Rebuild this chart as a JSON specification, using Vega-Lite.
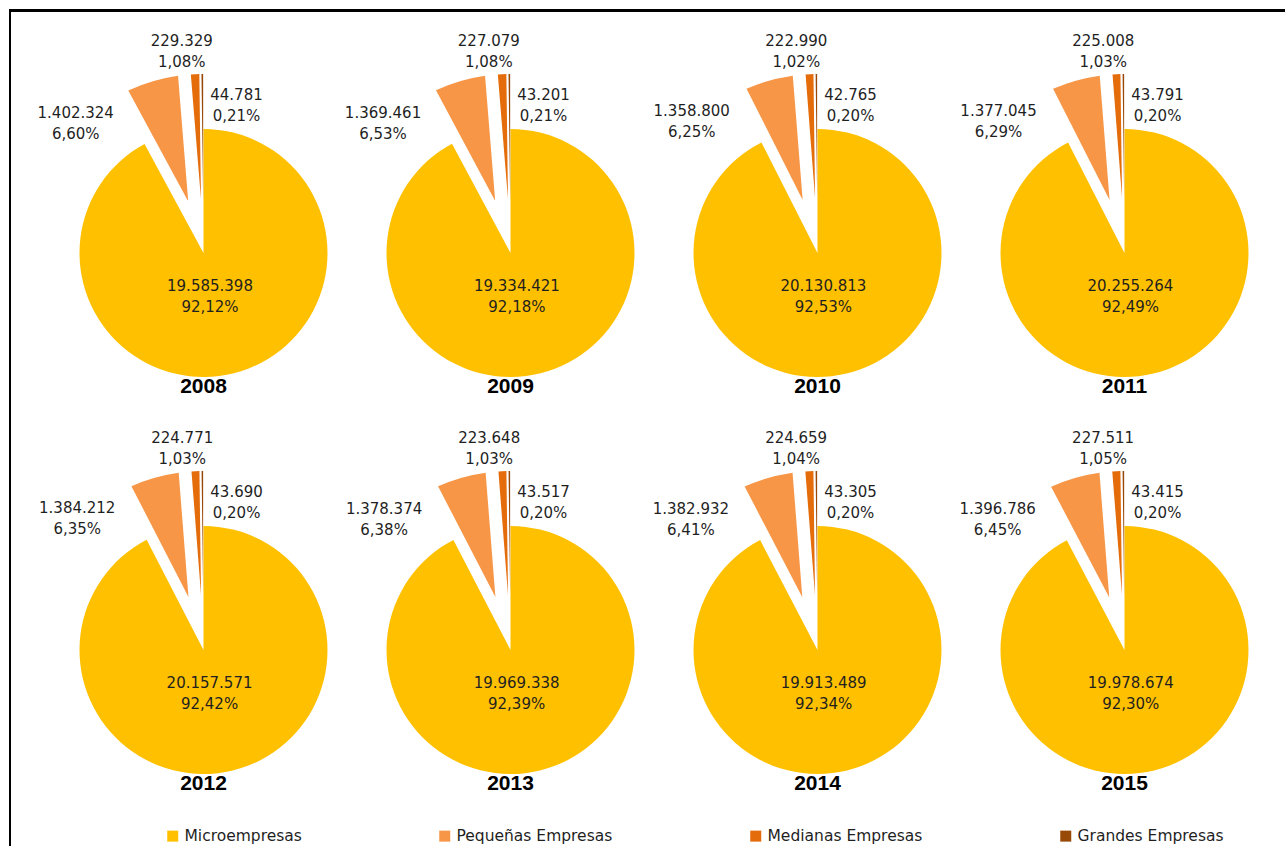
{
  "$schema": "https://vega.github.io/schema/vega-lite/v6.json",
  "padding": {"left": 9, "top": 9, "right": 0, "bottom": 0},
  "background": "white",
  "config": {
    "locale": {"number": {"decimal": ",", "thousands": ".", "grouping": [3], "currency": ["", " €"]}},
    "view": {"stroke": null},
    "headerFacet": {"labels": false, "title": null, "labelFontSize": 0, "labelPadding": 0, "labelExpr": "''"},
    "header": {"labels": false, "title": null, "labelFontSize": 0, "labelPadding": 0, "labelExpr": "''"},
    "legend": {
      "orient": "none",
      "legendX": 156,
      "legendY": 819,
      "direction": "horizontal",
      "symbolType": "square",
      "symbolSize": 121,
      "symbolStrokeWidth": 0,
      "symbolOpacity": 1,
      "labelFont": "DejaVu Sans",
      "labelFontSize": 15.5,
      "labelColor": "#1F1F1F",
      "labelOffset": 4,
      "labelLimit": 400,
      "columnPadding": 135,
      "title": null
    }
  },
  "datasets": {
    "empresas": [
      {"year": "2008", "cat": "Microempresas", "value": 19585398, "pct": 0.9212},
      {"year": "2008", "cat": "Pequeñas Empresas", "value": 1402324, "pct": 0.0660},
      {"year": "2008", "cat": "Medianas Empresas", "value": 229329, "pct": 0.0108},
      {"year": "2008", "cat": "Grandes Empresas", "value": 44781, "pct": 0.0021},
      {"year": "2009", "cat": "Microempresas", "value": 19334421, "pct": 0.9218},
      {"year": "2009", "cat": "Pequeñas Empresas", "value": 1369461, "pct": 0.0653},
      {"year": "2009", "cat": "Medianas Empresas", "value": 227079, "pct": 0.0108},
      {"year": "2009", "cat": "Grandes Empresas", "value": 43201, "pct": 0.0021},
      {"year": "2010", "cat": "Microempresas", "value": 20130813, "pct": 0.9253},
      {"year": "2010", "cat": "Pequeñas Empresas", "value": 1358800, "pct": 0.0625},
      {"year": "2010", "cat": "Medianas Empresas", "value": 222990, "pct": 0.0102},
      {"year": "2010", "cat": "Grandes Empresas", "value": 42765, "pct": 0.0020},
      {"year": "2011", "cat": "Microempresas", "value": 20255264, "pct": 0.9249},
      {"year": "2011", "cat": "Pequeñas Empresas", "value": 1377045, "pct": 0.0629},
      {"year": "2011", "cat": "Medianas Empresas", "value": 225008, "pct": 0.0103},
      {"year": "2011", "cat": "Grandes Empresas", "value": 43791, "pct": 0.0020},
      {"year": "2012", "cat": "Microempresas", "value": 20157571, "pct": 0.9242},
      {"year": "2012", "cat": "Pequeñas Empresas", "value": 1384212, "pct": 0.0635},
      {"year": "2012", "cat": "Medianas Empresas", "value": 224771, "pct": 0.0103},
      {"year": "2012", "cat": "Grandes Empresas", "value": 43690, "pct": 0.0020},
      {"year": "2013", "cat": "Microempresas", "value": 19969338, "pct": 0.9239},
      {"year": "2013", "cat": "Pequeñas Empresas", "value": 1378374, "pct": 0.0638},
      {"year": "2013", "cat": "Medianas Empresas", "value": 223648, "pct": 0.0103},
      {"year": "2013", "cat": "Grandes Empresas", "value": 43517, "pct": 0.0020},
      {"year": "2014", "cat": "Microempresas", "value": 19913489, "pct": 0.9234},
      {"year": "2014", "cat": "Pequeñas Empresas", "value": 1382932, "pct": 0.0641},
      {"year": "2014", "cat": "Medianas Empresas", "value": 224659, "pct": 0.0104},
      {"year": "2014", "cat": "Grandes Empresas", "value": 43305, "pct": 0.0020},
      {"year": "2015", "cat": "Microempresas", "value": 19978674, "pct": 0.9230},
      {"year": "2015", "cat": "Pequeñas Empresas", "value": 1396786, "pct": 0.0645},
      {"year": "2015", "cat": "Medianas Empresas", "value": 227511, "pct": 0.0105},
      {"year": "2015", "cat": "Grandes Empresas", "value": 43415, "pct": 0.0020}
    ]
  },
  "spacing": 0,
  "bounds": "flush",
  "vconcat": [
    {
      "data": {"values": []},
      "width": 1276,
      "height": 3,
      "view": {"fill": "black", "stroke": null},
      "mark": "rule",
      "encoding": {}
    },
    {
      "spacing": 39,
      "bounds": "flush",
      "hconcat": [
        {
          "data": {"values": []},
          "width": 2,
          "height": 834,
          "view": {"fill": "black", "stroke": null},
          "mark": "rule",
          "encoding": {}
        },
        {
          "spacing": 0,
          "bounds": "flush",
          "vconcat": [
            {
              "data": {"values": []},
              "width": 1,
              "height": 61,
              "view": {"stroke": null},
              "mark": "rule",
              "encoding": {}
            },
            {
              "data": {"name": "empresas"},
              "facet": {"field": "year", "type": "nominal", "header": {"labels": false, "title": null, "labelFontSize": 0, "labelPadding": 0, "labelExpr": "''"}},
              "columns": 4,
              "spacing": {"row": 37, "column": 0},
              "bounds": "flush",
              "spec": {
                "width": 307,
                "height": 360,
                "encoding": {
                  "theta": {"field": "value", "type": "quantitative", "stack": "normalize"},
                  "order": {"field": "value", "type": "quantitative", "sort": "descending"},
                  "detail": {"field": "cat", "type": "nominal"}
                },
                "layer": [
                  {
                    "mark": {"type": "arc", "radius": 124, "radius2": 0},
                    "encoding": {
                      "color": {
                        "field": "cat", "type": "nominal",
                        "scale": {
                          "domain": ["Microempresas", "Pequeñas Empresas", "Medianas Empresas", "Grandes Empresas"],
                          "range": ["#FFC000", "#F79646", "#E46C0A", "#984807"]
                        }
                      },
                      "opacity": {"condition": {"test": "datum.cat == 'Microempresas'", "value": 1}, "value": 0}
                    }
                  },
                  {
                    "mark": {"type": "arc", "radius": 179, "radius2": 55, "padAngle": 0.118},
                    "encoding": {
                      "color": {"field": "cat", "type": "nominal"},
                      "opacity": {"condition": {"test": "datum.cat == 'Pequeñas Empresas'", "value": 1}, "value": 0}
                    }
                  },
                  {
                    "mark": {"type": "arc", "radius": 179, "radius2": 55, "padAngle": 0.0195},
                    "encoding": {
                      "color": {"field": "cat", "type": "nominal"},
                      "opacity": {"condition": {"test": "datum.cat == 'Medianas Empresas'", "value": 1}, "value": 0}
                    }
                  },
                  {
                    "mark": {"type": "arc", "radius": 179, "radius2": 55, "padAngle": 0.0037},
                    "encoding": {
                      "color": {"field": "cat", "type": "nominal"},
                      "opacity": {"condition": {"test": "datum.cat == 'Grandes Empresas'", "value": 1}, "value": 0}
                    }
                  },
                  {
                    "mark": {"type": "text", "radius": 44, "thetaOffset": 0.1, "dy": -10.5, "font": "DejaVu Sans", "fontSize": 15, "color": "#1F1F1F"},
                    "encoding": {"text": {"condition": {"test": "datum.cat == 'Microempresas'", "field": "value", "type": "quantitative", "format": ",d"}, "value": ""}}
                  },
                  {
                    "mark": {"type": "text", "radius": 44, "thetaOffset": 0.1, "dy": 10.5, "font": "DejaVu Sans", "fontSize": 15, "color": "#1F1F1F"},
                    "encoding": {"text": {"condition": {"test": "datum.cat == 'Microempresas'", "field": "pct", "type": "quantitative", "format": ".2%"}, "value": ""}}
                  },
                  {
                    "mark": {"type": "text", "radius": 182, "thetaOffset": -0.49, "dy": -10.5, "font": "DejaVu Sans", "fontSize": 15, "color": "#1F1F1F"},
                    "encoding": {"text": {"condition": {"test": "datum.cat == 'Pequeñas Empresas'", "field": "value", "type": "quantitative", "format": ",d"}, "value": ""}}
                  },
                  {
                    "mark": {"type": "text", "radius": 182, "thetaOffset": -0.49, "dy": 10.5, "font": "DejaVu Sans", "fontSize": 15, "color": "#1F1F1F"},
                    "encoding": {"text": {"condition": {"test": "datum.cat == 'Pequeñas Empresas'", "field": "pct", "type": "quantitative", "format": ".2%"}, "value": ""}}
                  },
                  {
                    "mark": {"type": "text", "radius": 203, "thetaOffset": -0.06, "dy": -10.5, "font": "DejaVu Sans", "fontSize": 15, "color": "#1F1F1F"},
                    "encoding": {"text": {"condition": {"test": "datum.cat == 'Medianas Empresas'", "field": "value", "type": "quantitative", "format": ",d"}, "value": ""}}
                  },
                  {
                    "mark": {"type": "text", "radius": 203, "thetaOffset": -0.06, "dy": 10.5, "font": "DejaVu Sans", "fontSize": 15, "color": "#1F1F1F"},
                    "encoding": {"text": {"condition": {"test": "datum.cat == 'Medianas Empresas'", "field": "pct", "type": "quantitative", "format": ".2%"}, "value": ""}}
                  },
                  {
                    "mark": {"type": "text", "radius": 151, "thetaOffset": 0.227, "dy": -10.5, "font": "DejaVu Sans", "fontSize": 15, "color": "#1F1F1F"},
                    "encoding": {"text": {"condition": {"test": "datum.cat == 'Grandes Empresas'", "field": "value", "type": "quantitative", "format": ",d"}, "value": ""}}
                  },
                  {
                    "mark": {"type": "text", "radius": 151, "thetaOffset": 0.227, "dy": 10.5, "font": "DejaVu Sans", "fontSize": 15, "color": "#1F1F1F"},
                    "encoding": {"text": {"condition": {"test": "datum.cat == 'Grandes Empresas'", "field": "pct", "type": "quantitative", "format": ".2%"}, "value": ""}}
                  },
                  {
                    "transform": [{"filter": "datum.cat == 'Microempresas'"}],
                    "mark": {"type": "text", "theta": 3.14159, "radius": 134, "font": "Liberation Sans", "fontWeight": "bold", "fontSize": 21, "color": "#000000"},
                    "encoding": {"theta": null, "order": null, "detail": null, "text": {"field": "year", "type": "nominal"}}
                  }
                ]
              }
            }
          ]
        }
      ]
    }
  ]
}
